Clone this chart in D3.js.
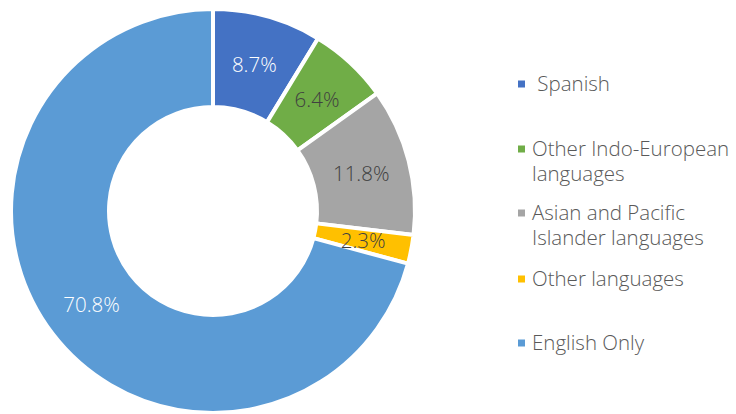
<!DOCTYPE html>
<html><head><meta charset="utf-8">
<script src="https://cdn.jsdelivr.net/npm/d3@7"></script>
<style>html,body{margin:0;padding:0;background:#fff;}svg{display:block;font-family:"Open Sans",Lato,sans-serif;}</style>
</head><body>
<svg id="chart" width="736" height="414"></svg>
<script>
const categories = ["Spanish", "Other Indo-European languages", "Asian and Pacific Islander languages", "Other languages", "English Only"];
const legendLines = [[" Spanish"], ["Other Indo-European", "languages"], ["Asian and Pacific", "Islander languages"], ["Other languages"], ["English Only"]];
const values = [8.7, 6.4, 11.8, 2.3, 70.8];
const colors = ["#4472C4", "#70AD47", "#A5A5A5", "#FFC000", "#5B9BD5"];
const labelColors = ["#ffffff", "#404040", "#404040", "#404040", "#ffffff"];
const legendMarkerY = [84, 149, 213, 279, 343];

const svg = d3.select("#chart");
const cx = 213, cy = 211, outerR = 202, innerR = 104;
const pie = d3.pie().sort(null).value(d => d)(values);
const arc = d3.arc().innerRadius(innerR).outerRadius(outerR);
const labelArc = d3.arc().innerRadius((innerR + outerR) / 2).outerRadius((innerR + outerR) / 2);

const g = svg.append("g").attr("transform", `translate(${cx},${cy})`);
g.selectAll("path").data(pie).join("path")
  .attr("d", arc)
  .attr("fill", (d, i) => colors[i])
  .attr("stroke", "#fff")
  .attr("stroke-width", 4)
  .attr("stroke-linejoin", "round");

g.selectAll("text").data(pie).join("text")
  .attr("transform", d => `translate(${labelArc.centroid(d)})`)
  .attr("text-anchor", "middle")
  .attr("dominant-baseline", "central")
  .attr("font-size", 20.5)
  .attr("font-weight", 300)
  .attr("fill", (d, i) => labelColors[i])
  .text(d => d3.format(".1f")(d.data) + "%");

const lg = svg.append("g");
categories.forEach((c, i) => {
  const y = legendMarkerY[i];
  lg.append("rect").attr("x", 518).attr("y", y - 3.5).attr("width", 7).attr("height", 7).attr("fill", colors[i]);
  const t = lg.append("text").attr("x", 532).attr("y", y + 7).attr("font-size", 20.5).attr("font-weight", 300).attr("fill", "#595959").attr("xml:space", "preserve");
  legendLines[i].forEach((l, j) => {
    t.append("tspan").attr("x", 532).attr("dy", j === 0 ? 0 : 24.5).text(l);
  });
});
</script>
</body></html>
